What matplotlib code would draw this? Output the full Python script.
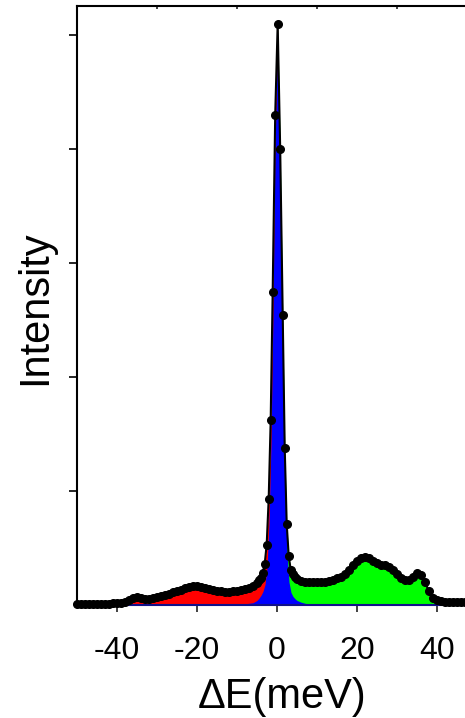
import matplotlib
matplotlib.use('Agg')
import matplotlib.pyplot as plt
import numpy as np

# ---------------- data ----------------
data_x = [-50, -49, -48, -47, -46, -45, -44, -43, -42, -41, -40, -39, -38, -37, -36,
          -35, -34, -33, -32, -31, -30, -29, -28, -27, -26, -25, -24, -23, -22, -21,
          -20, -19, -18, -17, -16, -15, -14, -13, -12, -11, -10, -9, -8, -7, -6, -5,
          -4.58, -4.08, -3.58, -3.08, -2.58, -2.08, -1.58, -1.08, -0.45, 0.17, 0.8,
          1.43, 1.93, 2.43, 2.93, 3.43, 3.93, 4.43,
          5, 6, 7, 8, 9, 10, 11, 12, 13, 14, 15, 16, 17, 18, 19, 20, 21, 22, 23, 24,
          25, 26, 27, 28, 29, 30, 31, 32, 33, 34, 35, 36, 37, 38, 39, 40, 41, 42, 43,
          44, 45, 46, 47, 48, 49, 50]
data_y = [0.010, 0.010, 0.010, 0.010, 0.012, 0.012, 0.012, 0.013, 0.013, 0.014, 0.015,
          0.018, 0.025, 0.040, 0.058, 0.067, 0.063, 0.056, 0.055, 0.060, 0.068, 0.078,
          0.088, 0.100, 0.110, 0.120, 0.133, 0.145, 0.158, 0.166, 0.167, 0.162, 0.152,
          0.142, 0.132, 0.125, 0.120, 0.118, 0.118, 0.120, 0.124, 0.130, 0.140, 0.152,
          0.168, 0.190,
          0.215, 0.240, 0.280, 0.360, 0.530, 0.930, 1.620, 2.750, 4.300, 5.100, 4.000,
          2.540, 1.380, 0.710, 0.430, 0.310, 0.270, 0.250,
          0.230, 0.210, 0.200, 0.198, 0.198, 0.200, 0.200, 0.205, 0.210, 0.220, 0.235,
          0.250, 0.275, 0.310, 0.350, 0.385, 0.410, 0.420, 0.410, 0.390, 0.370, 0.355,
          0.348, 0.335, 0.305, 0.275, 0.240, 0.215, 0.222, 0.250, 0.280, 0.265, 0.200,
          0.120, 0.065, 0.042, 0.034, 0.030, 0.028, 0.027, 0.026, 0.025, 0.025, 0.025,
          0.025, 0.025]

elastic_x = [-9, -8, -7, -6, -5, -4.5, -4, -3.5, -3, -2.5, -2, -1.5, -1, -0.5, 0, 0.17,
             0.5, 1, 1.5, 2, 2.5, 3, 3.5, 4, 4.5, 5, 6, 7, 8, 9, 10, 12]
elastic_y = [0.005, 0.010, 0.015, 0.020, 0.040, 0.060, 0.085, 0.120, 0.180, 0.330, 0.720,
             1.420, 2.550, 4.000, 4.750, 5.000, 4.400, 3.400, 2.050, 1.050, 0.460, 0.200,
             0.110, 0.075, 0.055, 0.040, 0.025, 0.015, 0.010, 0.006, 0.004, 0.000]

split_energy = 0.17
xticks = [-40, -20, 0, 20, 40]
xtick_labels = ['-40', '-20', '0', '20', '40']
top_ticks = [-30, -10, 10, 30]
yticks = [1, 2, 3, 4, 5]

# ---------------- figure ----------------
plt.rcParams['font.family'] = ['Liberation Sans', 'DejaVu Sans']

W, H = 465, 718
fig = plt.figure(figsize=(W / 100, H / 100), dpi=100)
ax = fig.add_axes([77 / W, 1 - 605 / H, 400 / W, 599 / H])

x = np.array(data_x)
y = np.array(data_y)

ax.fill_between(x, 0, y, where=x <= split_energy, color='#ff0000', lw=0, zorder=1)
ax.fill_between(x, 0, y, where=x >= split_energy, color='#00ff00', lw=0, zorder=1)
ax.fill_between(elastic_x, 0, elastic_y, color='#0000ff', lw=0, zorder=2)
ax.plot(x, y, color='black', lw=1.5, marker='o', ms=5.5, zorder=5, clip_on=False)

ax.set_xlim(-50, 50)
ax.set_ylim(0, 599 / 114)

ax.spines['right'].set_visible(False)
for s in ['left', 'top']:
    ax.spines[s].set_linewidth(1.5)
    ax.spines[s].set_color('black')
ax.spines['bottom'].set_color('#12128a')
ax.spines['bottom'].set_linewidth(1.5)
ax.spines['bottom'].set_zorder(3)

ax.set_xticks(xticks)
ax.set_xticklabels(xtick_labels, fontsize=23)
ax.set_xticks(top_ticks, minor=True)
ax.tick_params(axis='x', which='major', direction='out', length=5, width=1.2,
               bottom=True, top=False, pad=17, color='#222222')
ax.tick_params(axis='x', which='minor', direction='in', length=2.5, width=1.2,
               bottom=False, top=True, color='#222222')

ax.set_yticks(yticks)
ax.set_yticklabels([])
ax.tick_params(axis='y', which='major', direction='out', length=6, width=1.2,
               left=True, right=False)
ax.tick_params(axis='y', which='minor', left=False, right=False)

ax.set_xlabel('ΔE(meV)', fontsize=30)
ax.xaxis.set_label_coords(0.513, -0.12)
ax.set_ylabel('Intensity', fontsize=30)
ax.yaxis.set_label_coords(-0.055, 0.497)

fig.savefig('out.png', dpi=100)
